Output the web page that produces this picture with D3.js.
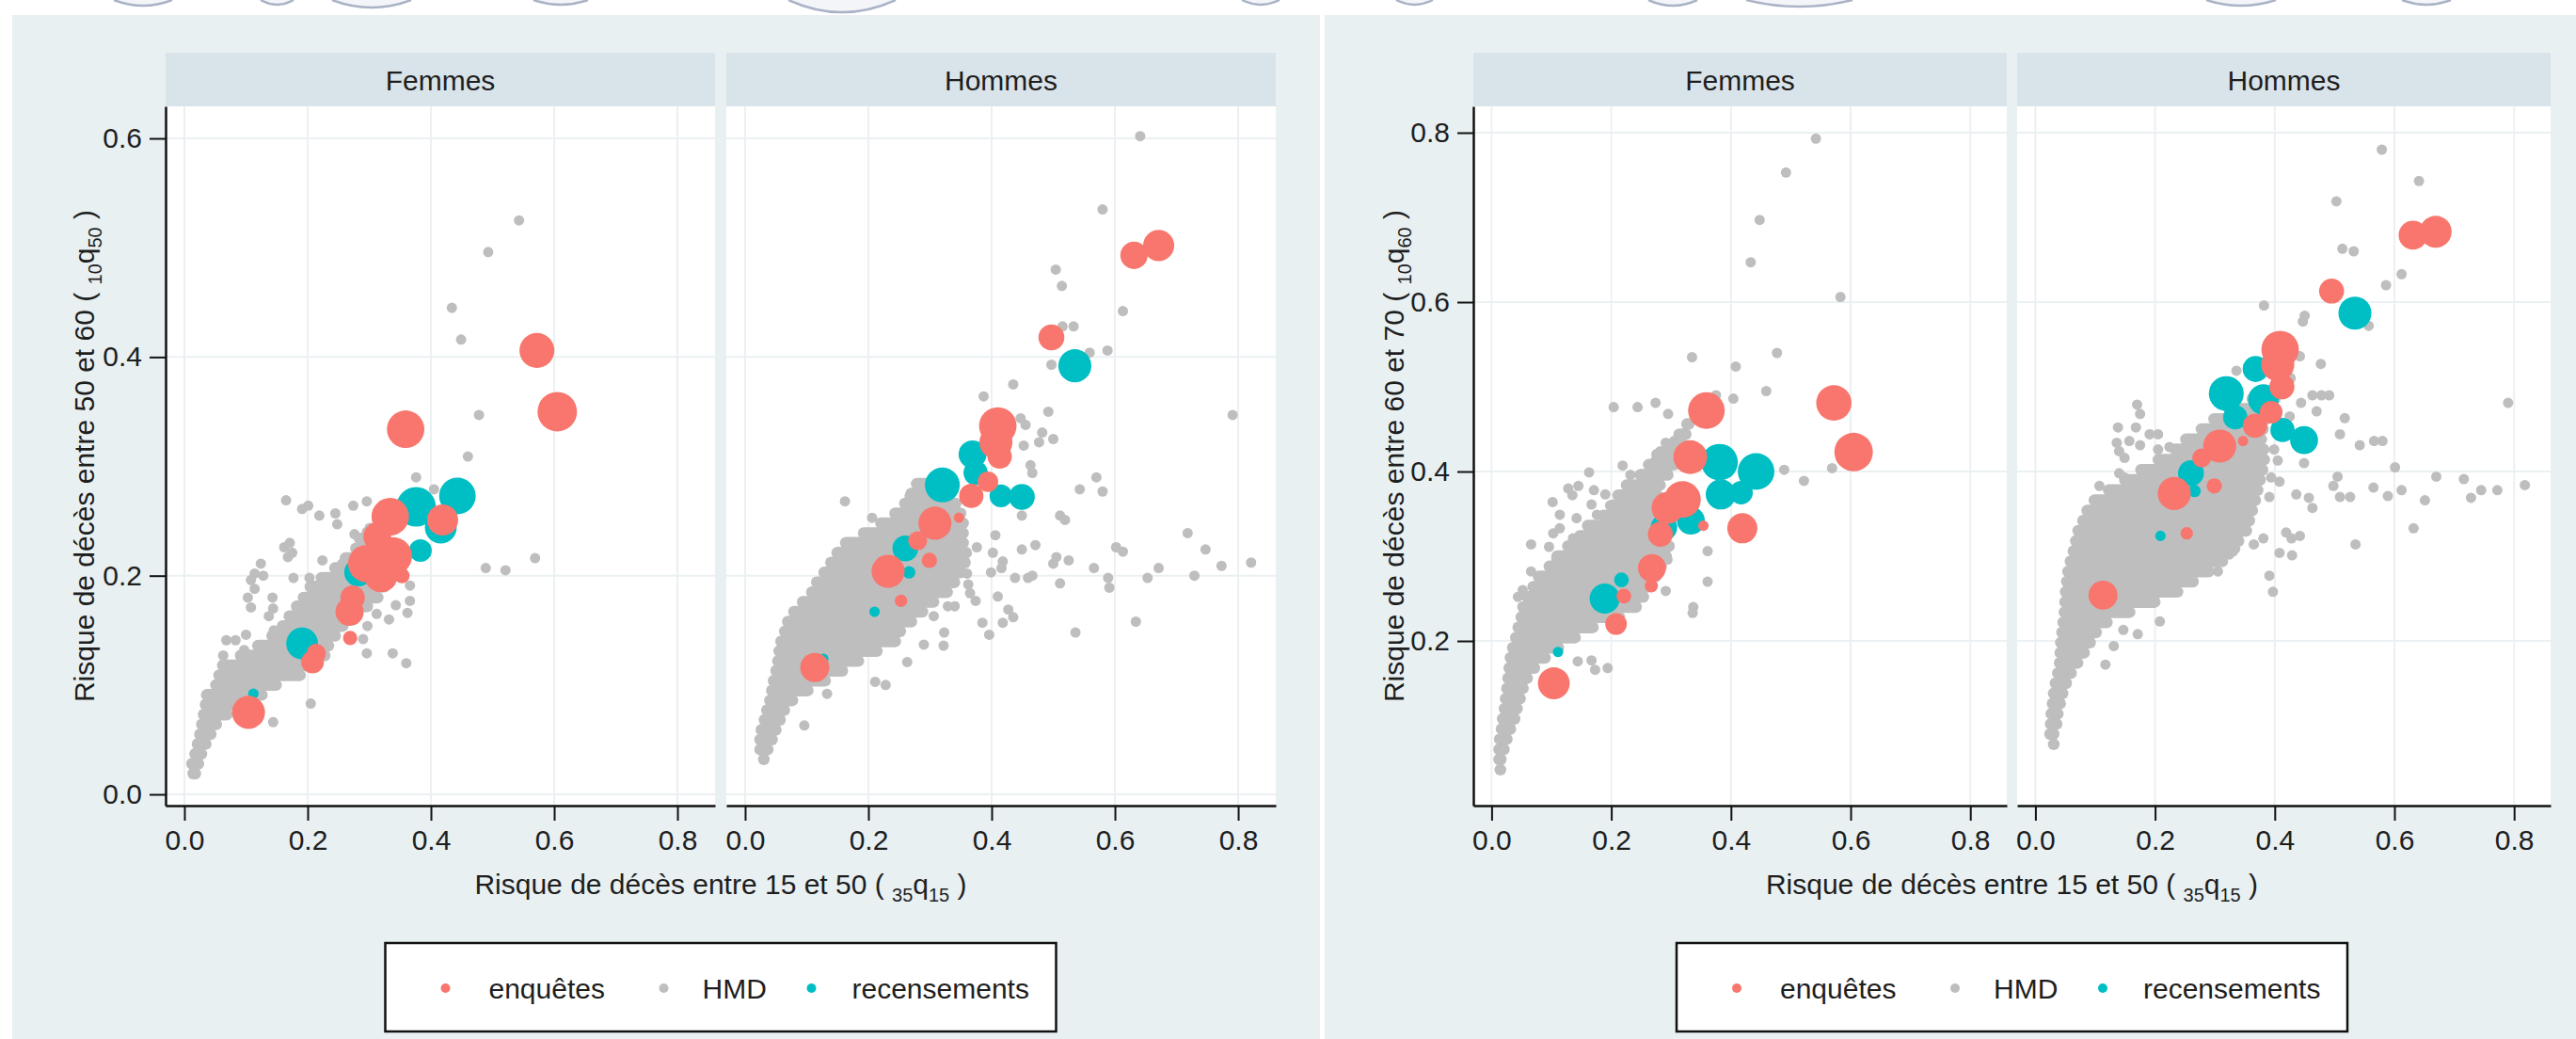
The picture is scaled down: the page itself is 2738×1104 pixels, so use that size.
<!DOCTYPE html>
<html>
<head>
<meta charset="utf-8">
<script src="https://cdn.jsdelivr.net/npm/d3@7"></script>
<style>
body { margin: 0; background: #fff; }
text { font-family: "Liberation Sans", Arial, Helvetica, sans-serif; }
</style>
</head>
<body>
<script>
// categories
var sexes = ['Femmes', 'Hommes'];
var sources = ['enquêtes', 'HMD', 'recensements'];
var sourceColors = ['#F8766D', '#BEBEBE', '#00BFC4'];
var xTicks = [0, 0.2, 0.4, 0.6, 0.8];
var yTicksA = [0, 0.2, 0.4, 0.6];
var yTicksB = [0.2, 0.4, 0.6, 0.8];

// ---- graphique A : 10q50 contre 35q15 ----
// enquetes / recensements : [35q15, 10q50, taille]
var enqA_F = [[0.572,0.406,7.8],[0.605,0.350,10],[0.359,0.334,9],[0.419,0.251,6.2],[0.334,0.254,9],[0.313,0.236,5],[0.296,0.211,9],[0.339,0.218,9],[0.319,0.200,7],[0.353,0.200,1.5],[0.273,0.180,3.8],[0.268,0.167,5.1],[0.269,0.143,1.3],[0.214,0.129,2.4],[0.208,0.121,3.3],[0.104,0.075,7]];
var recA_F = [[0.443,0.273,8.6],[0.376,0.263,10],[0.416,0.244,6.5],[0.383,0.223,3.3],[0.282,0.203,5],[0.191,0.138,6.5],[0.112,0.092,0.7]];
var hmdA_F = [[0.543,0.525],[0.493,0.496],[0.434,0.445],[0.449,0.416],[0.478,0.347],[0.460,0.309],[0.376,0.290],[0.405,0.279],[0.569,0.216],[0.489,0.207],[0.521,0.205],[0.165,0.269],[0.191,0.261],[0.201,0.264],[0.219,0.255],[0.245,0.257],[0.248,0.247],[0.274,0.264],[0.296,0.268],[0.162,0.226],[0.171,0.230],[0.168,0.217],[0.175,0.221],[0.224,0.214],[0.177,0.198],[0.124,0.211],[0.114,0.202],[0.128,0.200],[0.108,0.196],[0.114,0.188],[0.103,0.180],[0.143,0.180],[0.108,0.171],[0.144,0.170],[0.137,0.163],[0.100,0.146],[0.068,0.141],[0.083,0.141],[0.097,0.132],[0.063,0.127],[0.145,0.150],[0.276,0.238],[0.296,0.240],[0.256,0.211],[0.203,0.198],[0.366,0.191],[0.366,0.177],[0.362,0.166],[0.343,0.173],[0.332,0.160],[0.312,0.165],[0.297,0.154],[0.290,0.142],[0.296,0.129],[0.338,0.129],[0.360,0.120],[0.205,0.083],[0.144,0.066]];
// nuage dense HMD : [10q50, 35q15 min, 35q15 max]
var coreA_F = [[0.019,0.006,0.026],[0.028,0.004,0.031],[0.037,0.009,0.036],[0.046,0.013,0.043],[0.055,0.017,0.051],[0.064,0.020,0.060],[0.073,0.023,0.077],[0.082,0.026,0.100],[0.091,0.028,0.134],[0.100,0.043,0.157],[0.109,0.048,0.196],[0.118,0.054,0.214],[0.127,0.083,0.236],[0.136,0.111,0.242],[0.145,0.134,0.253],[0.154,0.151,0.265],[0.163,0.162,0.288],[0.172,0.174,0.305],[0.180,0.185,0.322],[0.190,0.196,0.333],[0.198,0.214,0.339],[0.207,0.236,0.345],[0.216,0.253,0.339],[0.225,0.270,0.333],[0.234,0.276,0.322],[0.243,0.293,0.307]];

var enqA_H = [[0.631,0.493,4.8],[0.671,0.502,6.2],[0.497,0.418,4.3],[0.410,0.337,9],[0.407,0.322,7],[0.413,0.309,3.8],[0.394,0.286,2.7],[0.367,0.273,3.8],[0.347,0.253,0.7],[0.308,0.248,7],[0.280,0.232,2.3],[0.299,0.214,1.5],[0.232,0.204,7],[0.253,0.177,1],[0.113,0.116,5.4]];
var recA_H = [[0.535,0.392,7],[0.369,0.311,5],[0.320,0.283,7.8],[0.374,0.294,3.8],[0.415,0.273,3.3],[0.449,0.272,4.3],[0.260,0.225,4.3],[0.266,0.203,1],[0.210,0.167,0.7],[0.127,0.124,0.5]];
var hmdA_H = [[0.641,0.602],[0.580,0.535],[0.504,0.480],[0.514,0.465],[0.613,0.442],[0.515,0.428],[0.533,0.428],[0.559,0.404],[0.588,0.406],[0.497,0.393],[0.435,0.375],[0.387,0.364],[0.492,0.350],[0.447,0.344],[0.455,0.338],[0.482,0.331],[0.477,0.322],[0.500,0.325],[0.452,0.319],[0.463,0.301],[0.466,0.294],[0.791,0.347],[0.543,0.279],[0.570,0.290],[0.580,0.277],[0.281,0.284],[0.267,0.273],[0.262,0.265],[0.250,0.255],[0.162,0.268],[0.206,0.253],[0.511,0.255],[0.519,0.251],[0.449,0.255],[0.406,0.237],[0.376,0.226],[0.471,0.228],[0.449,0.224],[0.718,0.239],[0.747,0.224],[0.773,0.209],[0.821,0.212],[0.729,0.200],[0.671,0.207],[0.653,0.198],[0.602,0.226],[0.613,0.222],[0.566,0.207],[0.589,0.198],[0.591,0.189],[0.525,0.214],[0.500,0.211],[0.505,0.217],[0.511,0.193],[0.459,0.198],[0.466,0.200],[0.438,0.198],[0.402,0.221],[0.418,0.213],[0.416,0.207],[0.399,0.203],[0.410,0.181],[0.360,0.202],[0.362,0.192],[0.365,0.184],[0.374,0.177],[0.329,0.172],[0.340,0.172],[0.306,0.163],[0.427,0.169],[0.435,0.162],[0.385,0.157],[0.396,0.146],[0.418,0.157],[0.536,0.148],[0.634,0.158],[0.323,0.148],[0.322,0.136],[0.290,0.137],[0.263,0.121],[0.211,0.103],[0.228,0.100],[0.133,0.092],[0.096,0.063]];
var coreA_H = [[0.032,0.022,0.034],[0.041,0.016,0.045],[0.050,0.016,0.052],[0.059,0.018,0.058],[0.068,0.023,0.065],[0.077,0.027,0.072],[0.086,0.032,0.085],[0.095,0.035,0.110],[0.104,0.038,0.138],[0.113,0.042,0.166],[0.122,0.045,0.192],[0.131,0.047,0.222],[0.140,0.050,0.252],[0.149,0.056,0.260],[0.158,0.061,0.278],[0.167,0.071,0.296],[0.176,0.085,0.314],[0.185,0.100,0.336],[0.194,0.108,0.348],[0.203,0.120,0.358],[0.212,0.131,0.365],[0.221,0.141,0.367],[0.230,0.155,0.362],[0.239,0.184,0.362],[0.248,0.212,0.362],[0.257,0.235,0.358],[0.266,0.251,0.350],[0.275,0.261,0.336],[0.284,0.270,0.310]];

// ---- graphique B : 10q60 contre 35q15 ----
var enqB_F = [[0.572,0.481,8],[0.605,0.423,9.5],[0.359,0.472,8.6],[0.332,0.417,7.3],[0.319,0.367,8.6],[0.294,0.357,6.5],[0.282,0.326,4],[0.354,0.336,0.7],[0.419,0.333,5.8],[0.268,0.286,5],[0.267,0.265,1.1],[0.221,0.253,1.4],[0.208,0.220,3],[0.104,0.150,6.5]];
var recB_F = [[0.442,0.400,8.6],[0.381,0.411,8.6],[0.383,0.373,5.8],[0.417,0.375,3.5],[0.333,0.342,5],[0.288,0.334,4.5],[0.189,0.250,5.8],[0.217,0.272,1.4],[0.111,0.187,0.7]];
var hmdB_F = [[0.542,0.793],[0.492,0.753],[0.448,0.697],[0.433,0.647],[0.583,0.606],[0.335,0.535],[0.408,0.524],[0.477,0.540],[0.459,0.495],[0.404,0.486],[0.375,0.490],[0.204,0.476],[0.244,0.476],[0.274,0.481],[0.295,0.468],[0.489,0.402],[0.522,0.389],[0.569,0.404],[0.163,0.399],[0.219,0.407],[0.232,0.396],[0.128,0.380],[0.145,0.383],[0.135,0.372],[0.171,0.378],[0.190,0.373],[0.102,0.364],[0.114,0.349],[0.142,0.345],[0.176,0.349],[0.167,0.361],[0.198,0.360],[0.066,0.314],[0.114,0.333],[0.103,0.327],[0.096,0.311],[0.108,0.298],[0.136,0.321],[0.148,0.314],[0.162,0.324],[0.066,0.282],[0.100,0.271],[0.052,0.260],[0.044,0.252],[0.361,0.306],[0.361,0.270],[0.291,0.259],[0.337,0.240],[0.336,0.233],[0.144,0.176],[0.167,0.177],[0.173,0.166],[0.194,0.168],[0.294,0.296],[0.291,0.434],[0.305,0.436],[0.282,0.424],[0.274,0.413]];
var coreB_F = [[0.048,0.006,0.016],[0.060,0.004,0.024],[0.072,0.004,0.029],[0.084,0.005,0.034],[0.096,0.008,0.040],[0.108,0.010,0.047],[0.120,0.013,0.051],[0.132,0.015,0.056],[0.144,0.017,0.061],[0.156,0.019,0.068],[0.168,0.021,0.080],[0.180,0.023,0.098],[0.192,0.027,0.120],[0.204,0.032,0.148],[0.216,0.036,0.178],[0.228,0.041,0.222],[0.240,0.044,0.250],[0.252,0.051,0.262],[0.264,0.061,0.270],[0.276,0.070,0.283],[0.288,0.088,0.292],[0.300,0.101,0.300],[0.312,0.119,0.305],[0.324,0.139,0.300],[0.336,0.152,0.290],[0.348,0.178,0.280],[0.360,0.193,0.280],[0.372,0.203,0.285],[0.384,0.217,0.290],[0.396,0.240,0.303],[0.408,0.254,0.313],[0.420,0.268,0.320],[0.432,0.285,0.328],[0.444,0.305,0.333],[0.456,0.318,0.338]];

var enqB_H = [[0.631,0.679,5.3],[0.669,0.683,6.5],[0.495,0.613,4],[0.409,0.544,9],[0.405,0.526,7],[0.412,0.500,4],[0.394,0.470,3.3],[0.367,0.454,3.8],[0.347,0.436,0.7],[0.308,0.430,7],[0.278,0.416,2.3],[0.299,0.383,1.5],[0.232,0.374,7],[0.253,0.327,1],[0.113,0.254,5.4]];
var recB_H = [[0.534,0.587,7],[0.368,0.521,4.3],[0.319,0.492,7.8],[0.381,0.485,6],[0.334,0.464,3.8],[0.413,0.449,3.8],[0.449,0.437,5],[0.260,0.398,4.3],[0.266,0.377,1],[0.209,0.324,0.7]];
var hmdB_H = [[0.579,0.780],[0.641,0.743],[0.503,0.719],[0.513,0.663],[0.532,0.660],[0.612,0.633],[0.586,0.620],[0.382,0.596],[0.450,0.584],[0.447,0.577],[0.557,0.572],[0.442,0.536],[0.477,0.527],[0.336,0.519],[0.790,0.481],[0.463,0.490],[0.478,0.490],[0.491,0.490],[0.444,0.481],[0.470,0.471],[0.517,0.463],[0.509,0.444],[0.542,0.431],[0.566,0.436],[0.580,0.436],[0.425,0.465],[0.449,0.410],[0.601,0.405],[0.505,0.394],[0.498,0.383],[0.509,0.370],[0.526,0.370],[0.565,0.381],[0.589,0.371],[0.612,0.378],[0.651,0.366],[0.670,0.394],[0.716,0.391],[0.728,0.369],[0.745,0.378],[0.772,0.378],[0.818,0.384],[0.632,0.333],[0.535,0.314],[0.457,0.369],[0.463,0.357],[0.436,0.373],[0.399,0.426],[0.405,0.413],[0.394,0.393],[0.408,0.388],[0.391,0.370],[0.419,0.328],[0.428,0.321],[0.442,0.324],[0.381,0.321],[0.365,0.314],[0.408,0.304],[0.429,0.301],[0.391,0.277],[0.397,0.258],[0.324,0.302],[0.334,0.309],[0.305,0.282],[0.208,0.223],[0.171,0.208],[0.147,0.213],[0.131,0.194],[0.117,0.172],[0.107,0.383],[0.125,0.378],[0.138,0.452],[0.168,0.452],[0.191,0.444],[0.205,0.444],[0.170,0.479],[0.175,0.468],[0.136,0.434],[0.157,0.436],[0.175,0.431],[0.140,0.424],[0.149,0.416],[0.140,0.398],[0.149,0.393],[0.205,0.426],[0.224,0.429]];
var coreB_H = [[0.078,0.022,0.032],[0.090,0.016,0.039],[0.102,0.017,0.044],[0.114,0.018,0.046],[0.126,0.020,0.050],[0.138,0.022,0.054],[0.150,0.025,0.060],[0.162,0.029,0.068],[0.174,0.032,0.079],[0.186,0.033,0.090],[0.198,0.034,0.100],[0.210,0.036,0.110],[0.222,0.038,0.128],[0.234,0.040,0.166],[0.246,0.041,0.208],[0.258,0.042,0.246],[0.270,0.044,0.272],[0.282,0.046,0.298],[0.294,0.050,0.321],[0.306,0.055,0.338],[0.318,0.059,0.348],[0.330,0.063,0.361],[0.342,0.071,0.366],[0.354,0.078,0.371],[0.366,0.090,0.376],[0.378,0.114,0.380],[0.390,0.141,0.384],[0.402,0.168,0.388],[0.414,0.197,0.391],[0.426,0.225,0.390],[0.438,0.243,0.386],[0.450,0.269,0.389],[0.462,0.290,0.394],[0.474,0.315,0.400],[0.486,0.354,0.409],[0.498,0.390,0.427],[0.510,0.405,0.434]];

var W = 2738, H = 1104;
var stripTop = 56, panelTop = 113, panelBottom = 856;
var grayR = 5.5;
var font = '"Liberation Sans", Arial, Helvetica, sans-serif';

var svg = d3.select('body').append('svg')
  .attr('width', W)
  .attr('height', H);

// bouts de la page du dessus
var decor = [[121,183,6],[277,312,5],[353,437,8],[567,625,5],[838,952,13],[1320,1360,5],[1484,1523,5],[1752,1804,6],[1856,1969,7],[2345,2419,6],[2553,2605,5]];
svg.selectAll('.decor').data(decor).enter().append('path')
  .attr('d', function(d) { return 'M' + d[0] + ',0 Q' + ((d[0] + d[1]) / 2) + ',' + (2 * d[2]) + ' ' + d[1] + ',0'; })
  .style('fill', '#f3f5f9')
  .style('stroke', '#aab3c6')
  .style('stroke-width', 2.5);

var sizeScale = d3.scaleSqrt().domain([0, 10]).range([0, 21]);

var charts = [
  { bgX: 13, bgW: 1390, left: 176, panelW: 584, gap: 12, yDomain: [-0.0103, 0.6293], yTicks: yTicksA,
    yTitle: ['Risque de décès entre 50 et 60 ( ', '10', 'q', '50', ' )'], yTitleX: 89,
    panels: [{enq: enqA_F, rec: recA_F, hmd: hmdA_F, core: coreA_F}, {enq: enqA_H, rec: recA_H, hmd: hmdA_H, core: coreA_H}] },
  { bgX: 1408, bgW: 1330, left: 1566, panelW: 567, gap: 11, yDomain: [0.0056, 0.8311], yTicks: yTicksB,
    yTitle: ['Risque de décès entre 60 et 70 ( ', '10', 'q', '60', ' )'], yTitleX: 1481,
    panels: [{enq: enqB_F, rec: recB_F, hmd: hmdB_F, core: coreB_F}, {enq: enqB_H, rec: recB_H, hmd: hmdB_H, core: coreB_H}] }
];

var addSubText = function(sel, parts) {
  sel.append('tspan').text(parts[0]);
  sel.append('tspan').attr('dy', 8).attr('font-size', 20).text(parts[1]);
  sel.append('tspan').attr('dy', -8).text(parts[2]);
  sel.append('tspan').attr('dy', 8).attr('font-size', 20).text(parts[3]);
  sel.append('tspan').attr('dy', -8).text(parts[4]);
};

var styleAxis = function(ax) {
  ax.select('.domain').style('stroke', '#111').style('stroke-width', 2.5);
  ax.selectAll('.tick line').style('stroke', '#111').style('stroke-width', 2);
  ax.selectAll('.tick text').style('font-family', font).style('font-size', '30px').style('fill', '#1e1e1e');
};

charts.forEach(function(c, ci) {
  var g = svg.append('g');
  g.append('rect')
    .attr('x', c.bgX).attr('y', 16)
    .attr('width', c.bgW).attr('height', H - 16)
    .style('fill', '#e8f0f2');

  var x = d3.scaleLinear().domain([-0.0305, 0.861]).range([0, c.panelW]);
  var y = d3.scaleLinear().domain(c.yDomain).range([panelBottom, panelTop]);

  sexes.forEach(function(sex, i) {
    var d = c.panels[i];
    var p = g.append('g').attr('transform', 'translate(' + (c.left + i * (c.panelW + c.gap)) + ',0)');

    p.append('rect')
      .attr('y', stripTop).attr('width', c.panelW).attr('height', panelTop - stripTop)
      .style('fill', '#d9e4ea');
    p.append('text')
      .attr('x', c.panelW / 2).attr('y', 96)
      .attr('text-anchor', 'middle')
      .style('font-size', '30px').style('fill', '#1e1e1e')
      .text(sex);

    p.append('rect')
      .attr('y', panelTop).attr('width', c.panelW).attr('height', panelBottom - panelTop)
      .style('fill', '#fff');

    p.selectAll('.vgrid').data(xTicks).enter().append('line')
      .attr('x1', x).attr('x2', x)
      .attr('y1', panelTop).attr('y2', panelBottom)
      .style('stroke', '#ebf1f3').style('stroke-width', 2);
    p.selectAll('.hgrid').data(c.yTicks).enter().append('line')
      .attr('x1', 0).attr('x2', c.panelW)
      .attr('y1', y).attr('y2', y)
      .style('stroke', '#ebf1f3').style('stroke-width', 2);

    var clipId = 'clip' + ci + i;
    p.append('clipPath').attr('id', clipId).append('rect')
      .attr('y', panelTop).attr('width', c.panelW).attr('height', panelBottom - panelTop);
    var marks = p.append('g').attr('clip-path', 'url(#' + clipId + ')');

    // HMD : nuage dense puis points isoles
    marks.selectAll('.core').data(d.core).enter().append('line')
      .attr('x1', function(r) { return x(r[1]) + grayR; })
      .attr('x2', function(r) { return Math.max(x(r[1]) + grayR, x(r[2]) - grayR); })
      .attr('y1', function(r) { return y(r[0]); })
      .attr('y2', function(r) { return y(r[0]); })
      .style('stroke', sourceColors[1])
      .style('stroke-width', 12.5)
      .style('stroke-linecap', 'round');
    marks.selectAll('.hmd').data(d.hmd).enter().append('circle')
      .attr('cx', function(v) { return x(v[0]); })
      .attr('cy', function(v) { return y(v[1]); })
      .attr('r', grayR)
      .style('fill', sourceColors[1]);

    marks.selectAll('.rec').data(d.rec).enter().append('circle')
      .attr('cx', function(v) { return x(v[0]); })
      .attr('cy', function(v) { return y(v[1]); })
      .attr('r', function(v) { return Math.max(grayR, sizeScale(v[2])); })
      .style('fill', sourceColors[2]);
    marks.selectAll('.enq').data(d.enq).enter().append('circle')
      .attr('cx', function(v) { return x(v[0]); })
      .attr('cy', function(v) { return y(v[1]); })
      .attr('r', function(v) { return Math.max(grayR, sizeScale(v[2])); })
      .style('fill', sourceColors[0]);

    var xa = p.append('g')
      .attr('transform', 'translate(0,' + panelBottom + ')')
      .call(d3.axisBottom(x).tickValues(xTicks).tickSize(16).tickSizeOuter(0).tickPadding(10).tickFormat(d3.format('.1f')));
    styleAxis(xa);

    if (i === 0) {
      var ya = p.append('g')
        .call(d3.axisLeft(y).tickValues(c.yTicks).tickSize(17).tickSizeOuter(0).tickPadding(8).tickFormat(d3.format('.1f')));
      styleAxis(ya);
    }
  });

  var mid = c.left + c.panelW + c.gap / 2;

  var xt = g.append('text')
    .attr('x', mid).attr('y', 950)
    .attr('text-anchor', 'middle')
    .style('font-size', '30px').style('fill', '#1e1e1e');
  addSubText(xt, ['Risque de décès entre 15 et 50 ( ', '35', 'q', '15', ' )']);

  var yt = g.append('text')
    .attr('transform', 'translate(' + c.yTitleX + ',' + ((panelTop + panelBottom) / 2) + ') rotate(-90)')
    .attr('text-anchor', 'middle')
    .attr('dy', '0.35em')
    .style('font-size', '30px').style('fill', '#1e1e1e');
  addSubText(yt, c.yTitle);

  // legende
  var lg = g.append('g').attr('transform', 'translate(' + (mid - 356.5) + ',1002)');
  lg.append('rect')
    .attr('width', 713).attr('height', 94)
    .style('fill', '#fff').style('stroke', '#111').style('stroke-width', 2.5);
  var keyX = [64, 296, 453];
  var labX = [110, 337, 496];
  sources.forEach(function(s, k) {
    lg.append('circle').attr('cx', keyX[k]).attr('cy', 48).attr('r', 5).style('fill', sourceColors[k]);
    lg.append('text').attr('x', labX[k]).attr('y', 59)
      .style('font-size', '30px').style('fill', '#1e1e1e')
      .text(s);
  });
});
</script>
</body>
</html>
